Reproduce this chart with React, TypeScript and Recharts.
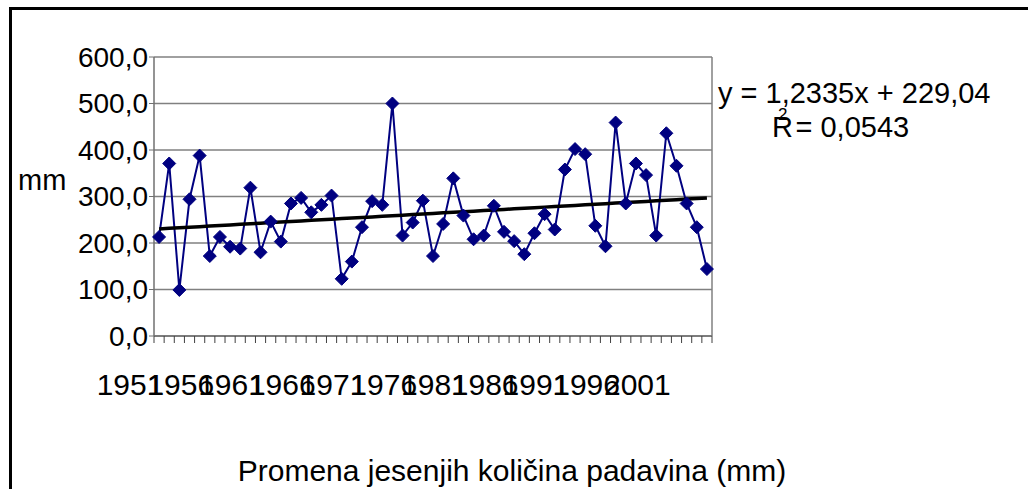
import React from 'react';
import { LineChart, Line, XAxis, YAxis, CartesianGrid, ReferenceLine } from 'recharts';

const years = [
  1951, 1952, 1953, 1954, 1955, 1956, 1957, 1958, 1959, 1960,
  1961, 1962, 1963, 1964, 1965, 1966, 1967, 1968, 1969, 1970,
  1971, 1972, 1973, 1974, 1975, 1976, 1977, 1978, 1979, 1980,
  1981, 1982, 1983, 1984, 1985, 1986, 1987, 1988, 1989, 1990,
  1991, 1992, 1993, 1994, 1995, 1996, 1997, 1998, 1999, 2000,
  2001, 2002, 2003, 2004, 2005,
];

const precipitation = [
  213, 371, 99, 294, 388, 172, 213, 192, 188, 319,
  180, 246, 203, 285, 297, 266, 282, 302, 123, 160,
  234, 290, 282, 500, 216, 244, 291, 172, 241, 339,
  259, 208, 216, 280, 224, 204, 176, 221, 262, 229,
  358, 402, 391, 237, 193, 459, 285, 371, 346, 216,
  436, 366, 285, 234, 144,
];

const xTickLabels = ['1951', '1956', '1961', '1966', '1971', '1976', '1981', '1986', '1991', '1996', '2001'];
const yTicks = [0, 100, 200, 300, 400, 500, 600];

const trendSlope = 1.2335;
const trendIntercept = 229.04;

const data = years.map((year, i) => ({
  idx: i + 1,
  year,
  value: precipitation[i],
  trend: trendIntercept + trendSlope * (i + 1),
}));

const boundaryTicks = [...years.map((_, i) => i + 0.5), years.length + 0.5];
const labelTicks = xTickLabels.map((l) => years.indexOf(Number(l)) + 1);

const FONT = '"Liberation Sans", Arial, sans-serif';

const Diamond = (props: any) => {
  const { cx, cy, index } = props;
  if (cx == null || cy == null) return <g key={index} />;
  const r = 6.5;
  return (
    <polygon
      key={index}
      points={`${cx},${cy - r} ${cx + r},${cy} ${cx},${cy + r} ${cx - r},${cy}`}
      fill="#000080"
      stroke="#000080"
      strokeWidth={1}
    />
  );
};

const YearTick = (props: any) => {
  const { x, y, payload } = props;
  return (
    <text x={x - 29} y={y} dy="0.71em" textAnchor="middle" fill="#000" fontSize={30} fontFamily={FONT}>
      {String(years[payload.value - 1])}
    </text>
  );
};

const EmptyTick = () => <g />;

export default function App() {
  return (
    <div style={{ position: 'absolute', left: 0, top: 0, width: 1028, height: 489, background: '#fff', fontFamily: FONT }}>
      <div
        style={{
          position: 'absolute',
          left: 9,
          top: 7,
          width: 1019,
          height: 482,
          boxSizing: 'border-box',
          borderLeft: '3px solid #000',
          borderTop: '3px solid #000',
        }}
      />
      <div style={{ position: 'absolute', left: 0, top: 0 }}>
        <LineChart width={1028} height={489} data={data} margin={{ top: 57, right: 316, left: 0, bottom: 85 }}>
          <CartesianGrid horizontal vertical={false} stroke="#808080" strokeWidth={1.5} />
          <XAxis
            xAxisId={0}
            type="number"
            dataKey="idx"
            domain={[0.5, 55.5]}
            ticks={boundaryTicks}
            interval={0}
            height={8}
            tickSize={7}
            axisLine={{ stroke: '#707070', strokeWidth: 1.5 }}
            tickLine={{ stroke: '#404040', strokeWidth: 1 }}
            tick={EmptyTick}
          />
          <XAxis
            xAxisId="labels"
            type="number"
            dataKey="idx"
            domain={[0.5, 55.5]}
            ticks={labelTicks}
            interval={0}
            height={60}
            tickSize={0}
            tickMargin={30}
            axisLine={false}
            tickLine={false}
            tick={YearTick}
          />
          <YAxis
            width={154}
            domain={[0, 600]}
            ticks={yTicks}
            interval={0}
            tickSize={5}
            tickMargin={1}
            axisLine={{ stroke: '#707070', strokeWidth: 1.5 }}
            tickLine={{ stroke: '#707070', strokeWidth: 1 }}
            tick={{ fill: '#000', fontSize: 28, fontFamily: FONT }}
            tickFormatter={(v: number) => v.toFixed(1).replace('.', ',')}
          />
          <ReferenceLine x={55.5} stroke="#808080" strokeWidth={1.5} />
          <Line
            type="linear"
            dataKey="value"
            stroke="#000080"
            strokeWidth={2}
            dot={Diamond}
            activeDot={false}
            isAnimationActive={false}
          />
          <Line
            type="linear"
            dataKey="trend"
            stroke="#000"
            strokeWidth={3.5}
            dot={false}
            activeDot={false}
            isAnimationActive={false}
          />
        </LineChart>
      </div>
      <svg width={1028} height={489} style={{ position: 'absolute', left: 0, top: 0, pointerEvents: 'none' }}>
        <text x={18} y={190} fontSize={29} fontFamily={FONT} fill="#000">mm</text>
        <text x={718} y={103} fontSize={29} fontFamily={FONT} fill="#000">y = 1,2335x + 229,04</text>
        <text x={772} y={137} fontSize={29} fontFamily={FONT} fill="#000">
          R<tspan dx={-15} dy={-17} fontSize={17}>2</tspan>
          <tspan dy={17}> = 0,0543</tspan>
        </text>
        <text x={512} y={481} textAnchor="middle" fontSize={30} fontFamily={FONT} fill="#000">
          Promena jesenjih količina padavina (mm)
        </text>
      </svg>
    </div>
  );
}
